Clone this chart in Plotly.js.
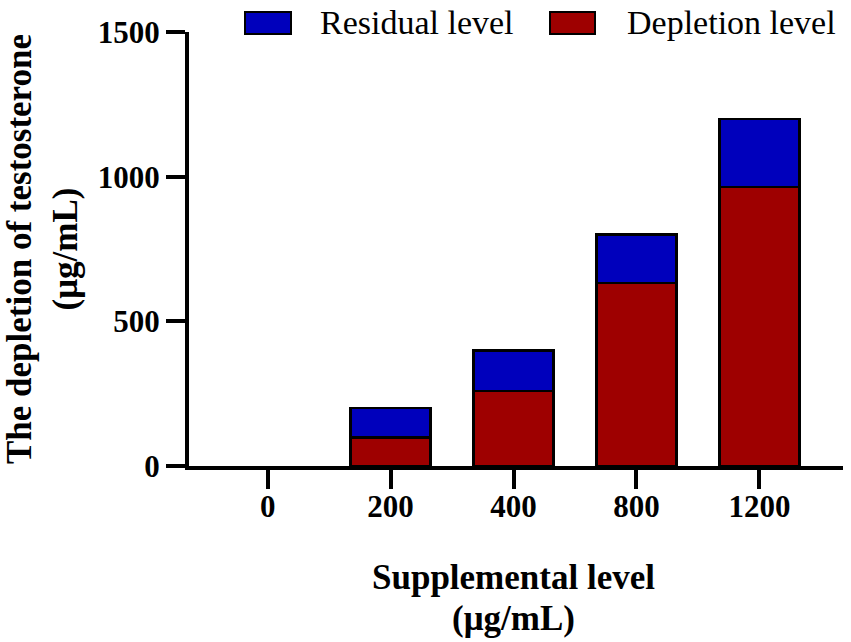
<!DOCTYPE html>
<html>
<head>
<meta charset="utf-8">
<script src="https://cdn.plot.ly/plotly-3.0.1.min.js"></script>
<style>
  body { margin: 0; background: #fff; }
  #chart { width: 851px; height: 642px; }
</style>
</head>
<body>
<div id="chart"></div>
<script>
// values (ug/mL)
var levels = ["0", "200", "400", "800", "1200"];
var depletion = [0, 98, 259, 632, 965];
var residual = [0, 102, 141, 168, 235];
var yTicks = [0, 500, 1000, 1500];

var blue = "rgb(0,0,188)";
var red = "rgb(158,0,0)";
var serif = "Liberation Serif, Times New Roman, serif";

// no outline on empty bars (level 0 has nothing to draw)
function outline(vals) {
	return vals.map(function (v) { return v > 0 ? 2.5 : 0; });
}

var depTrace = {
	x: levels, y: depletion, type: "bar", name: "Depletion level",
	marker: {color: red, line: {color: "#000", width: outline(depletion)}},
	showlegend: false
};
var resTrace = {
	x: levels, y: residual, type: "bar", name: "Residual level",
	marker: {color: blue, line: {color: "#000", width: outline(residual)}},
	showlegend: false
};

// plot area in pixels, used to place the hand-made legend and x title
var L = 189, R = 8, T = 32, B = 176;
var W = 851 - L - R, H = 642 - T - B;
function px(x) { return (x - L) / W; }
function py(y) { return (642 - B - y) / H; }

var legendItems = [
	{name: "Residual level", color: blue, x0: 245, x1: 291, tx: 318},
	{name: "Depletion level", color: red, x0: 550, x1: 595, tx: 625}
];

var shapes = legendItems.map(function (d) {
	return {
		type: "rect", xref: "paper", yref: "paper",
		x0: px(d.x0), x1: px(d.x1), y0: py(34), y1: py(12),
		fillcolor: d.color, line: {color: "#000", width: 2}
	};
});

var annotations = legendItems.map(function (d) {
	return {
		xref: "paper", yref: "paper", x: px(d.tx), y: py(23),
		xanchor: "left", yanchor: "middle", showarrow: false,
		text: d.name, font: {family: serif, size: 34, color: "#000"}
	};
});
annotations.push({
	xref: "paper", yref: "paper", x: px(513), y: py(577),
	xanchor: "center", yanchor: "middle", showarrow: false,
	text: "Supplemental level",
	font: {family: serif, size: 35, color: "#000", weight: "bold"}
});
annotations.push({
	xref: "paper", yref: "paper", x: px(513), y: py(618),
	xanchor: "center", yanchor: "middle", showarrow: false,
	text: "(μg/mL)",
	font: {family: serif, size: 35, color: "#000", weight: "bold"}
});

var layout = {
	width: 851, height: 642,
	margin: {l: L, r: R, t: T, b: B, pad: 0},
	barmode: "stack",
	bargap: 0.35,
	paper_bgcolor: "#fff", plot_bgcolor: "#fff",
	showlegend: false,
	xaxis: {
		type: "category", range: [-0.64, 4.68],
		showline: true, linecolor: "#000", linewidth: 4,
		ticks: "outside", ticklen: 19, tickwidth: 4, tickcolor: "#000",
		ticklabelstandoff: -9,
		showgrid: false, zeroline: false, fixedrange: true,
		tickfont: {family: serif, size: 31, color: "#000", weight: "bold"}
	},
	yaxis: {
		range: [0, 1500], tickvals: yTicks,
		showline: true, linecolor: "#000", linewidth: 4,
		ticks: "outside", ticklen: 19, tickwidth: 4, tickcolor: "#000",
		showgrid: false, zeroline: false, fixedrange: true,
		tickfont: {family: serif, size: 31, color: "#000", weight: "bold"},
		title: {
			text: "The depletion of testosterone<br>(μg/mL)",
			standoff: 20,
			font: {family: serif, size: 35, color: "#000", weight: "bold"}
		}
	},
	shapes: shapes,
	annotations: annotations
};

Plotly.newPlot("chart", [depTrace, resTrace], layout, {displayModeBar: false, staticPlot: true});
</script>
</body>
</html>
